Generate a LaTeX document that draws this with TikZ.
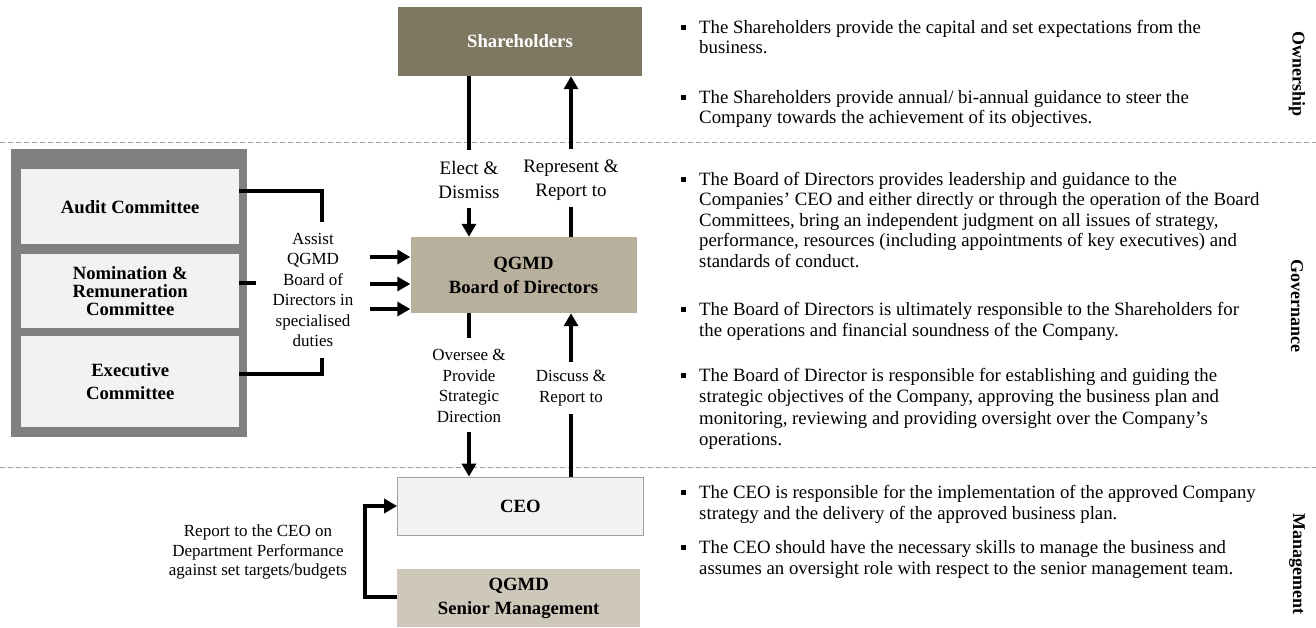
\documentclass[tikz,border=0pt]{standalone}
\usepackage{fontspec}
\setmainfont{Liberation Serif}
\usetikzlibrary{arrows.meta}
\definecolor{shc}{HTML}{7E7862}
\definecolor{bdc}{HTML}{B8B09C}
\definecolor{smc}{HTML}{CDC8BA}
\definecolor{lgc}{HTML}{F2F2F2}
\definecolor{ogc}{HTML}{808080}
\definecolor{dsc}{HTML}{A0A0A0}
\newcommand{\bodylines}[1]{\begin{tabular}[t]{@{}l@{}}#1\end{tabular}}
\begin{document}
\begin{tikzpicture}[x=1pt,y=-1pt,
  boxlbl/.style={font=\fontsize{18.7}{24}\selectfont\bfseries, align=center, inner sep=0pt},
  lbl/.style={font=\fontsize{17}{20.5}\selectfont, align=center, inner sep=0pt},
  biglbl/.style={font=\fontsize{19}{24}\selectfont, align=center, inner sep=0pt},
  body/.style={font=\fontsize{18.8}{20.5}\selectfont, anchor=base west, inner sep=0pt},
  bodyw/.style={font=\fontsize{18.8}{21.5}\selectfont, anchor=base west, inner sep=0pt},
  side/.style={font=\fontsize{18}{20}\selectfont\bfseries, rotate=-90, inner sep=0pt},
  conn/.style={line width=3.5pt},
  arr/.style={line width=3.5pt, -{Triangle[length=13pt,width=14pt]}},
  bul/.style={fill=black, minimum size=5pt, inner sep=0pt},
  sepline/.style={draw=dsc, line width=0.8pt, dash pattern=on 5pt off 3pt}
]
\useasboundingbox (0,0) rectangle (1316,627);
% dashed separators
\draw[sepline] (0,142) -- (1316,142);
\draw[sepline] (0,467) -- (1316,467);

% Shareholders
\node[fill=shc, minimum width=244pt, minimum height=69pt, inner sep=0pt] (sh) at (520,41.5) {};
\node[boxlbl, text=white] at (sh) {Shareholders};

% Board
\node[fill=bdc, minimum width=226pt, minimum height=76pt, inner sep=0pt] (bd) at (523.5,275) {};
\node[boxlbl] at (bd) {QGMD\\Board of Directors};

% CEO
\node[fill=lgc, draw=dsc, line width=0.8pt, minimum width=246pt, minimum height=58pt, inner sep=0pt] (ceo) at (520.5,506) {};
\node[boxlbl] at (ceo) {CEO};

% Senior management
\node[fill=smc, minimum width=243pt, minimum height=58pt, inner sep=0pt, anchor=north west] (sm) at (397,569) {};
\node[boxlbl] at (sm) {QGMD\\Senior Management};

% committees
\node[fill=ogc, minimum width=236pt, minimum height=288pt, inner sep=0pt, anchor=north west] (outer) at (11,149) {};
\node[fill=lgc, minimum width=218pt, minimum height=75pt, inner sep=0pt, anchor=north west] (audit) at (21,169) {};
\node[fill=lgc, minimum width=218pt, minimum height=74pt, inner sep=0pt, anchor=north west] (nom) at (21,254) {};
\node[fill=lgc, minimum width=218pt, minimum height=91pt, inner sep=0pt, anchor=north west] (exec) at (21,336) {};
\node[boxlbl] at (audit) {Audit Committee};
\node[boxlbl, font=\fontsize{18.7}{18}\selectfont\bfseries] at (nom) {Nomination \&\\Remuneration\\Committee};
\node[boxlbl, font=\fontsize{18.7}{23}\selectfont\bfseries] at (exec) {Executive\\Committee};

% assist label and connectors
\node[lbl] (assist) at (313,290) {Assist\\QGMD\\Board of\\Directors in\\specialised\\duties};
\coordinate (aTop) at (322,222);
\coordinate (aBot) at (322,358);
\draw[conn] (audit.east |- 0,191) -| (aTop);
\draw[conn] (exec.east |- 0,374) -| (aBot);
\draw[conn] (nom.east |- 0,283) -- ++(17,0);
\foreach \yy in {257,284,309}
  \draw[arr] (370,\yy) -- (bd.west |- 0,\yy);

% Shareholders <-> Board
\node[biglbl] (elect) at (469,180) {Elect \&\\Dismiss};
\node[biglbl] (repr) at (571,180) {Represent \&\\Report to};
\draw[conn] (sh.south -| elect) -- ++(0,74);
\draw[arr] (469,208) -- (bd.north -| elect);
\draw[conn] (bd.north -| repr) -- (571,207);
\draw[arr] (571,149) -- (sh.south -| repr);

% Board <-> CEO
\node[lbl] (over) at (469,386) {Oversee \&\\Provide\\Strategic\\Direction};
\node[lbl] (disc) at (571,388) {Discuss \&\\Report to};
\draw[conn] (bd.south -| over) -- (469,338);
\draw[arr] (469,432) -- (ceo.north -| over);
\draw[conn] (ceo.north -| disc) -- (571,414);
\draw[arr] (571,362) -- (bd.south -| disc);

% Senior mgmt -> CEO
\node[lbl, font=\fontsize{17}{19.5}\selectfont] (rep) at (258,552) {Report to the CEO on\\Department Performance\\against set targets/budgets};
\coordinate (bend) at (365,597);
\draw[arr] (sm.west |- bend) -- (bend) |- (ceo.west);

% right column text
\node[body] (o1) at (699,33) {\bodylines{The Shareholders provide the capital and set expectations from the\\business.}};
\node[bul] at (683,27) {};
\node[body] (o2) at (699,103) {\bodylines{The Shareholders provide annual/ bi-annual guidance to steer the\\Company towards the achievement of its objectives.}};
\node[bul] at (683,97) {};
\node[body] (g1) at (699,185) {\bodylines{The Board of Directors provides leadership and guidance to the\\Companies’ CEO and either directly or through the operation of the Board\\Committees, bring an independent judgment on all issues of strategy,\\performance, resources (including appointments of key executives) and\\standards of conduct.}};
\node[bul] at (683,179) {};
\node[bodyw] (g2) at (699,315) {\bodylines{The Board of Directors is ultimately responsible to the Shareholders for\\the operations and financial soundness of the Company.}};
\node[bul] at (683,309) {};
\node[bodyw] (g3) at (699,381) {\bodylines{The Board of Director is responsible for establishing and guiding the\\strategic objectives of the Company, approving the business plan and\\monitoring, reviewing and providing oversight over the Company’s\\operations.}};
\node[bul] at (683,375) {};
\node[bodyw] (m1) at (699,498) {\bodylines{The CEO is responsible for the implementation of the approved Company\\strategy and the delivery of the approved business plan.}};
\node[bul] at (683,492) {};
\node[bodyw] (m2) at (699,553) {\bodylines{The CEO should have the necessary skills to manage the business and\\assumes an oversight role with respect to the senior management team.}};
\node[bul] at (683,547) {};

% side labels
\node[side] (own) at (1297,74) {Ownership};
\node[side] (gov) at (1297,306) {Governance};
\node[side] (man) at (1297,564) {Management};
\end{tikzpicture}
\end{document}
